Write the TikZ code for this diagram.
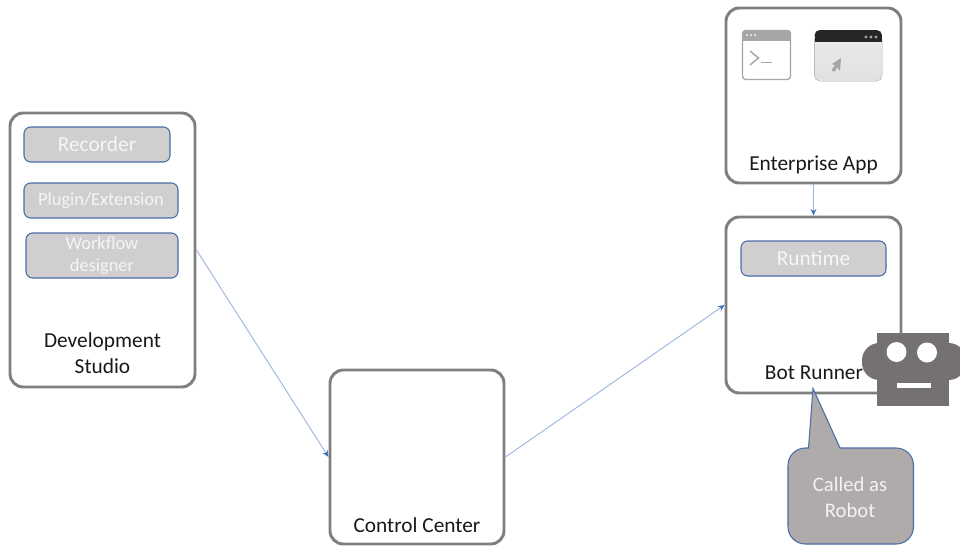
\documentclass[tikz,border=0pt]{standalone}
\usepackage{fontspec}
\setmainfont{Carlito}
\usepackage{xcolor}
\usetikzlibrary{arrows.meta}
\definecolor{boxgray}{HTML}{7F7F7F}
\definecolor{partfill}{HTML}{D0CECE}
\definecolor{partline}{HTML}{4A6CA8}
\definecolor{linkblue}{HTML}{9DB5E0}
\definecolor{tipblue}{HTML}{4472C4}
\definecolor{botgray}{HTML}{767171}
\definecolor{notefill}{HTML}{AFABAB}
\definecolor{iconline}{HTML}{A6A6A6}
\tikzset{
  groupbox/.style={draw=boxgray,line width=2.2pt,rounded corners=10pt,fill=white},
  partbox/.style={draw=partline,line width=0.8pt,rounded corners=5pt,fill=partfill,text=white!93!gray,inner sep=0pt,align=center},
  caption/.style={text=black!90,align=center,font=\fontsize{16}{19.5}\selectfont},
  link/.style={draw=linkblue,line width=0.7pt,-{Stealth[color=tipblue,length=5pt,width=4.5pt]}}
}
\newcommand\PartBox[6]{
  \node[partbox,minimum width=#3*0.75pt,minimum height=#4*0.75pt,font=\fontsize{#5}{16.5}\selectfont] (#1) at #2 {#6};
}
\newcommand\GroupBox[4]{
  \node[groupbox,minimum width=#3*0.75pt,minimum height=#4*0.75pt] (#1) at #2 {};
}
\begin{document}
\begin{tikzpicture}[x=0.75pt, y=-0.75pt]
\useasboundingbox (0,0) rectangle (960,546);
\GroupBox{devstudio}{(102.5,250)}{185}{274}
\GroupBox{control}{(417,457)}{174}{174}
\GroupBox{entapp}{(813.5,95.5)}{175}{175}
\GroupBox{botrunner}{(813.5,305)}{175}{176}
\PartBox{recorder}{(97,144.5)}{146}{35}{16}{Recorder}
\PartBox{plugin}{(101,200.5)}{154}{35}{13.8}{Plugin/Extension}
\PartBox{workflow}{(102,255.5)}{152}{45}{13.8}{Workflow\\designer}
\PartBox{runtime}{(813.5,258.5)}{145}{35}{16}{Runtime}
\node[caption] (devlabel) at (102.5,353) {Development\\Studio};
\node[caption] (ctrllabel) at (417,525) {Control Center};
\node[caption] (entlabel) at (813.5,164.5) {Enterprise App};
\node[caption] (botlabel) at (814,373) {Bot Runner};

\draw[link] (devstudio.east) -- (control.west);
\draw[link] (control.east) -- (botrunner.west);
\draw[link] (entapp.south) -- (botrunner.north);

% terminal icon
\draw[iconline,line width=1pt,rounded corners=2.5pt,fill=white] (742.5,30.5) rectangle (790.5,79.5);
\fill[iconline,rounded corners=2.5pt] (742,30) rectangle (791,38);
\fill[iconline] (742,36) rectangle (791,40.5);
\foreach \x in {747,751,755} \fill[white] (\x,35) circle [radius=1];
\draw[iconline,line width=1.1pt] (750,51) -- (758.5,58) -- (750,65);
\draw[iconline,line width=1.1pt] (761,62.5) -- (772,62.5);

% window icon
\fill[top color=black!8,bottom color=black!12,rounded corners=4pt] (814.5,34) rectangle (882,81);
\fill[black!85,rounded corners=4pt] (814.5,30) rectangle (882,41);
\fill[black!85] (814.5,36) rectangle (882,41.5);
\foreach \x in {866,871,876} \fill[gray!70] (\x,37) circle [radius=1.6];
\fill[iconline] (841,58) -- (840,71) -- (837.5,67.5) -- (834,72) -- (831.5,70) -- (835,65.5) -- (832,64) -- cycle;

% robot
\fill[botgray,rounded corners=13pt] (862,343) rectangle (966,380);
\fill[botgray] (877,333) rectangle (949,406);
\fill[white] (896.5,352) circle [radius=10];
\fill[white] (927,352.5) circle [radius=10];
\fill[white] (897,382.5) rectangle (930.5,388);

% callout
\draw[draw=partline,line width=0.8pt,fill=notefill] (813,388.5) -- (840,448) [rounded corners=13pt] -- (913.5,448) -- (913.5,544) -- (788,544) -- (788,448) [sharp corners] -- (808.5,448) -- cycle;
\node[caption,text=white!90!gray,font=\fontsize{15.5}{19.5}\selectfont] (notelabel) at (850,497) {Called as\\Robot};
\end{tikzpicture}
\end{document}
